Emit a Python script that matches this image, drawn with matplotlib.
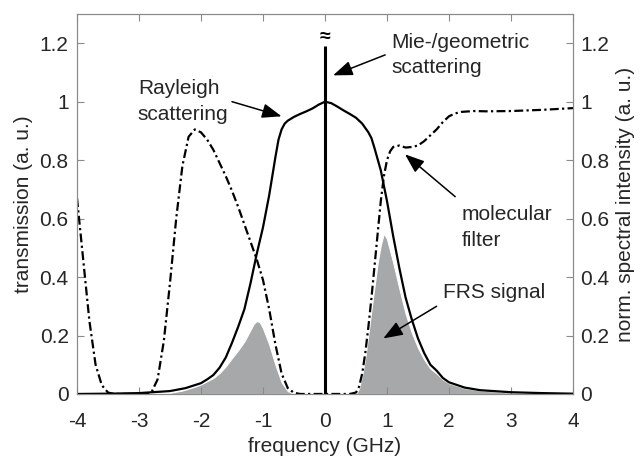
import matplotlib
matplotlib.use("Agg")
import matplotlib.pyplot as plt

plt.rcParams['font.family'] = ['Liberation Sans', 'DejaVu Sans']

# Rayleigh scattering spectrum (solid)
x_ray = [-4, -3.5, -3, -2.5, -2.25, -2, -1.9, -1.8, -1.7, -1.6, -1.5, -1.4, -1.3, -1.2, -1.1,
         -1.0, -0.9, -0.8, -0.75, -0.7, -0.65, -0.6, -0.5, -0.4, -0.3, -0.2, -0.1, 0,
         0.1, 0.2, 0.3, 0.4, 0.5, 0.6, 0.65, 0.7, 0.75, 0.8, 0.9, 1.0, 1.1, 1.2, 1.3,
         1.4, 1.5, 1.6, 1.7, 1.8, 1.9, 2.0, 2.25, 2.5, 3, 3.5, 4]
rayleigh = [0.0, 0.001, 0.003, 0.01, 0.02, 0.037, 0.05, 0.065, 0.09, 0.125, 0.175, 0.23, 0.29, 0.38, 0.48,
            0.57, 0.68, 0.81, 0.87, 0.905, 0.925, 0.935, 0.948, 0.958, 0.967, 0.977, 0.99, 1.0,
            0.995, 0.983, 0.97, 0.958, 0.945, 0.925, 0.91, 0.895, 0.875, 0.84, 0.765, 0.66, 0.54, 0.43, 0.33,
            0.255, 0.19, 0.14, 0.10, 0.08, 0.055, 0.04, 0.022, 0.013, 0.006, 0.003, 0.001]

# molecular filter transmission (dash-dot)
x_filt = [-4, -3.9, -3.8, -3.7, -3.6, -3.5, -3.4, -2.9, -2.8, -2.7, -2.6, -2.5, -2.4, -2.3, -2.2,
          -2.1, -2.0, -1.9, -1.8, -1.7, -1.6, -1.5, -1.4, -1.3, -1.2, -1.1, -1.0, -0.9, -0.8,
          -0.7, -0.6, -0.5, -0.4, 0.4, 0.5, 0.55, 0.6, 0.65, 0.7, 0.75, 0.8, 0.85, 0.9, 0.95,
          1.0, 1.05, 1.1, 1.2, 1.3, 1.4, 1.5, 1.6, 1.7, 1.8, 1.9, 2.0, 2.1, 2.2, 2.4, 2.6,
          3.0, 3.5, 4.0]
filt = [0.67, 0.46, 0.25, 0.10, 0.03, 0.005, 0.0, 0.0, 0.005, 0.05, 0.18, 0.38, 0.6, 0.78, 0.88,
        0.905, 0.895, 0.87, 0.835, 0.79, 0.745, 0.695, 0.64, 0.58, 0.52, 0.46, 0.39, 0.29, 0.17,
        0.07, 0.02, 0.004, 0.0, 0.0, 0.005, 0.025, 0.07, 0.14, 0.23, 0.33, 0.44, 0.55, 0.66, 0.745,
        0.8, 0.83, 0.845, 0.85, 0.843, 0.845, 0.85, 0.865, 0.885, 0.905, 0.93, 0.95, 0.96, 0.965, 0.968, 0.967,
        0.968, 0.972, 0.978]

# FRS signal (filled)
x_frs = [-2.5, -2.3, -2.1, -2.0, -1.9, -1.8, -1.7, -1.6, -1.5, -1.4, -1.3, -1.2, -1.15, -1.1, -1.05,
         -1.0, -0.9, -0.8, -0.7, -0.6, -0.5, 0.5, 0.55, 0.6, 0.65, 0.7, 0.75, 0.8, 0.85, 0.9,
         0.95, 1.0, 1.05, 1.1, 1.2, 1.3, 1.4, 1.5, 1.6, 1.7, 1.8, 1.9, 2.0, 2.25, 2.5, 3.0, 3.5, 4.0]
frs = [0.004, 0.012, 0.025, 0.033, 0.044, 0.055, 0.072, 0.095, 0.123, 0.15, 0.18, 0.22, 0.24, 0.25, 0.245,
       0.225, 0.17, 0.1, 0.04, 0.01, 0.0, 0.0, 0.02, 0.065, 0.125, 0.205, 0.29, 0.37, 0.45, 0.51,
       0.55, 0.53, 0.49, 0.45, 0.36, 0.275, 0.21, 0.158, 0.118, 0.087, 0.07, 0.05, 0.037, 0.02, 0.012, 0.005, 0.002, 0.0]

# Mie/geometric scattering line
mie_freq = 0.0
mie_top = 1.19

yticks = [0, 0.2, 0.4, 0.6, 0.8, 1, 1.2]
ytick_labels = ['0', '0.2', '0.4', '0.6', '0.8', '1', '1.2']
xticks = [-4, -3, -2, -1, 0, 1, 2, 3, 4]

axis_gray = '#8a8a8a'
text_col = '#262626'
fs = 15

fig = plt.figure(figsize=(6.4, 4.57), dpi=100)
ax = fig.add_axes([0.1203, 0.1379, 0.775, 0.8315])

ax.fill_between(x_frs, frs, 0, facecolor='#a7a8aa', edgecolor='white', lw=0.8, zorder=1)
ax.plot(x_filt, filt, color='k', lw=1.6, linestyle=(0, (4, 1.5, 1, 1.5)), zorder=3)
ax.plot(x_ray, rayleigh, color='k', lw=1.6, zorder=3)
ax.vlines(mie_freq, 0, mie_top, color='k', lw=2.2, zorder=4)
ax.text(mie_freq, mie_top + 0.028, '≈', ha='center', va='center', fontsize=14, fontweight='bold')

ax.set_xlim(-4, 4)
ax.set_ylim(0, 1.3)
ax.set_xticks(xticks)
ax.set_xticklabels([str(t) for t in xticks])
ax.set_yticks(yticks)
ax.set_yticklabels(ytick_labels)
ax.tick_params(direction='in', length=5, color=axis_gray, labelcolor=text_col, labelsize=fs,
               top=True, right=False)
ax.tick_params(axis='x', pad=13)
ax.tick_params(axis='y', pad=6)
ax.set_xlabel('frequency (GHz)', fontsize=fs, color=text_col, labelpad=4)
ax.set_ylabel('transmission (a. u.)', fontsize=fs, color=text_col, labelpad=5)

ax2 = ax.twinx()
ax2.set_ylim(0, 1.3)
ax2.set_yticks(yticks)
ax2.set_yticklabels(ytick_labels)
ax2.tick_params(direction='in', length=5, color=axis_gray, labelcolor=text_col, labelsize=fs, pad=5)
ax2.set_ylabel('norm. spectral intensity (a. u.)', fontsize=fs, color=text_col, labelpad=5)

for a in (ax, ax2):
    for s in a.spines.values():
        s.set_color(axis_gray)
        s.set_linewidth(0.8)

arrow = dict(arrowstyle='-|>,head_length=0.85,head_width=0.32', color='k', lw=1.1,
             mutation_scale=14, shrinkA=0, shrinkB=0)
ax.text(-3.02, 1.0, 'Rayleigh\nscattering', fontsize=fs, color=text_col,
        ha='left', va='center', linespacing=1.45)
ax.annotate('', xy=(-0.70, 0.95), xytext=(-1.5, 1.0), arrowprops=arrow)
ax.text(1.07, 1.16, 'Mie-/geometric\nscattering', fontsize=fs, color=text_col,
        ha='left', va='center', linespacing=1.45)
ax.annotate('', xy=(0.13, 1.09), xytext=(0.97, 1.16), arrowprops=arrow)
ax.text(2.2, 0.57, 'molecular\nfilter', fontsize=fs, color=text_col,
        ha='left', va='center', linespacing=1.45)
ax.annotate('', xy=(1.29, 0.82), xytext=(2.1, 0.675), arrowprops=arrow)
ax.text(1.9, 0.347, 'FRS signal', fontsize=fs, color=text_col, ha='left', va='center')
ax.annotate('', xy=(0.94, 0.19), xytext=(1.8, 0.30), arrowprops=arrow)

fig.savefig('out.png', dpi=100)
